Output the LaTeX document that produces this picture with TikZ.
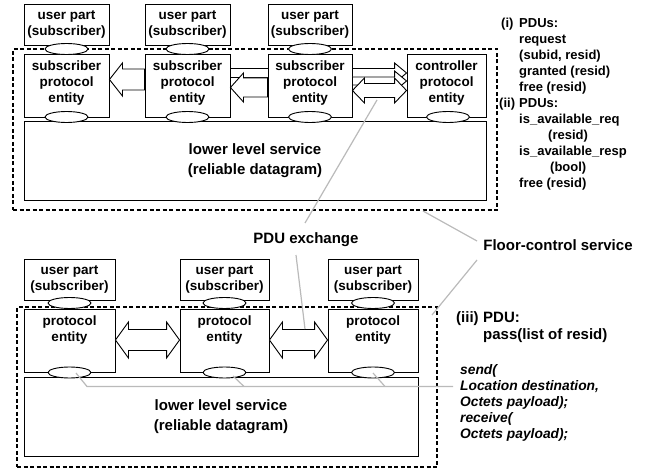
\documentclass[tikz,border=0pt]{standalone}
\usepackage{fontspec}
\setmainfont{Liberation Sans}
\usetikzlibrary{shapes.geometric,calc}
\newcommand\bxfont{\fontsize{13.5}{16}\selectfont\bfseries}
\newcommand\lowfont{\fontsize{15}{20}\selectfont\bfseries}
\newcommand\lblfont{\fontsize{15}{18}\selectfont\bfseries}
\newcommand\sidefont{\fontsize{13}{16}\selectfont\bfseries}
\newcommand\apifont{\fontsize{13.8}{16}\selectfont\bfseries\itshape}
% block arrows between named nodes: #1 left node, #2 right node, #3 centre y, #4 shaft half, #5 head half, #6 head length
\newcommand\blkL[6]{\draw[blk] let \p1=(#1.east), \p2=(#2.west) in
  (\x1,#3) -- ({\x1+#6pt},{#3-#5}) -- ({\x1+#6pt},{#3-#4}) -- (\x2,{#3-#4}) -- (\x2,{#3+#4}) -- ({\x1+#6pt},{#3+#4}) -- ({\x1+#6pt},{#3+#5}) -- cycle;}
\newcommand\blkR[6]{\draw[blk] let \p1=(#1.east), \p2=(#2.west) in
  (\x2,#3) -- ({\x2-#6pt},{#3-#5}) -- ({\x2-#6pt},{#3-#4}) -- (\x1,{#3-#4}) -- (\x1,{#3+#4}) -- ({\x2-#6pt},{#3+#4}) -- ({\x2-#6pt},{#3+#5}) -- cycle;}
\newcommand\blkD[6]{\draw[blk] let \p1=(#1.east), \p2=(#2.west) in
  (\x1,#3) -- ({\x1+#6pt},{#3-#5}) -- ({\x1+#6pt},{#3-#4}) -- ({\x2-#6pt},{#3-#4}) -- ({\x2-#6pt},{#3-#5}) -- (\x2,#3)
  -- ({\x2-#6pt},{#3+#5}) -- ({\x2-#6pt},{#3+#4}) -- ({\x1+#6pt},{#3+#4}) -- ({\x1+#6pt},{#3+#5}) -- cycle;}
\begin{document}
\begin{tikzpicture}[x=1pt,y=-1pt,
  box/.style={draw, fill=white, line width=0.9pt, inner sep=0pt, align=center, font=\bxfont},
  txt/.style={inner sep=0pt, align=center, font=\bxfont},
  lowbox/.style={draw, fill=white, line width=0.9pt, inner sep=0pt, align=center, font=\lowfont},
  ell/.style={draw, fill=white, ellipse, minimum width=43pt, minimum height=11pt, inner sep=0pt, line width=0.9pt},
  dashbox/.style={draw, dashed, line width=1.2pt, dash pattern=on 4pt off 2.5pt, inner sep=0pt},
  leader/.style={draw=black!27, line width=1.2pt},
  blk/.style={draw, fill=white, line width=0.9pt, line join=miter},
  side/.style={inner sep=0pt, anchor=base west, font=\sidefont},
  api/.style={inner sep=0pt, anchor=base west, font=\apifont},
  lbl/.style={inner sep=0pt, font=\lblfont}]
\useasboundingbox (0,0) rectangle (662,468);

% ---------- top part ----------
\node[dashbox, minimum width=484pt, minimum height=161pt] (fc1) at (255,129.5) {};
\node[lowbox, minimum width=462pt, minimum height=79pt] (low1) at (255,160.5) {lower level service\\(reliable datagram)};

\node[box, minimum width=85pt, minimum height=63pt] (e1) at (66.5,85.5) {};
\node[box, minimum width=85pt, minimum height=63pt] (e2) at (187.5,85.5) {};
\node[box, minimum width=79pt, minimum height=63pt] (ctrl) at (446.5,85.5) {};

% arrows (the long one passes behind e3)
\blkL{e1}{e2}{79.5}{10.5}{16.5}{13}
\blkR{e2}{ctrl}{73}{4.5}{10}{12}
\node[box, minimum width=84pt, minimum height=63pt] (e3) at (310,85.5) {};
\blkL{e2}{e3}{87.5}{9.5}{14.5}{13}
\blkR{e3}{ctrl}{81}{4}{10}{12}
\blkD{e3}{ctrl}{90.5}{7}{12.5}{12}

\node[txt] (e1t) at (66.5,83) {subscriber\\protocol\\entity};
\node[txt] (e2t) at (187.5,83) {subscriber\\protocol\\entity};
\node[txt] (e3t) at (310,83) {subscriber\\protocol\\entity};
\node[txt] (ctrlt) at (446.5,83) {controller\\protocol\\entity};

\node[box, minimum width=85pt, minimum height=41pt] (u1) at (66.5,24.5) {user part\\(subscriber)};
\node[box, minimum width=85pt, minimum height=41pt] (u2) at (187.5,24.5) {user part\\(subscriber)};
\node[box, minimum width=84pt, minimum height=41pt] (u3) at (310,24.5) {user part\\(subscriber)};

\node[ell] (a1) at (66.5,49) {};
\node[ell] (a2) at (187.5,49) {};
\node[ell] (a3) at (310,49) {};
\node[ell] (b1) at (66.5,117) {};
\node[ell] (b2) at (187.5,117) {};
\node[ell] (b3) at (310,117) {};
\node[ell] (b4) at (448,117) {};

% ---------- bottom part ----------
\node[dashbox, minimum width=420pt, minimum height=160pt] (fc2) at (227,387) {};
\node[lowbox, minimum width=394pt, minimum height=79pt] (low2) at (221,416.5) {lower level service\\(reliable datagram)};

\node[box, minimum width=91pt, minimum height=63pt] (f1) at (69.5,340.5) {};
\node[box, minimum width=89pt, minimum height=63pt] (f2) at (224.5,340.5) {};
\node[box, minimum width=90pt, minimum height=63pt] (f3) at (373,340.5) {};
\node[txt] (f1t) at (69.5,330) {protocol\\entity};
\node[txt] (f2t) at (224.5,330) {protocol\\entity};
\node[txt] (f3t) at (373,330) {protocol\\entity};

\blkD{f1}{f2}{340}{10.5}{18}{13}
\blkD{f2}{f3}{340}{10.5}{18}{13}

\node[box, minimum width=91pt, minimum height=41pt] (v1) at (69.5,279.5) {user part\\(subscriber)};
\node[box, minimum width=89pt, minimum height=41pt] (v2) at (224.5,279.5) {user part\\(subscriber)};
\node[box, minimum width=90pt, minimum height=41pt] (v3) at (373,279.5) {user part\\(subscriber)};

\node[ell] (c1) at (69.5,303) {};
\node[ell] (c2) at (224.5,303) {};
\node[ell] (c3) at (373,303) {};
\node[ell] (d1) at (69.5,372.5) {};
\node[ell] (d2) at (224.5,372.5) {};
\node[ell] (d3) at (373,372.5) {};

% ---------- labels and leaders ----------
\node[lbl] (pdu) at (306,240) {PDU exchange};
\node[lbl] (fcs) at (558,245) {Floor-control service};

\coordinate (pa) at (377,100);
\coordinate (pb) at (305,223);
\coordinate (pc) at (296,255);
\coordinate (pd) at (305,329);
\draw[leader] (pb) -- (pa);
\draw[leader] (pc) -- (pd);

\coordinate (fa) at (477,241);
\coordinate (fb) at (423,211);
\coordinate (fcc) at (477,260);
\coordinate (fd) at (432,315);
\draw[leader] (fa) -- (fb);
\draw[leader] (fcc) -- (fd);

\coordinate (sa) at (453,386.5);
\coordinate (sb) at (87,386.5);
\coordinate (s1) at (76,373);
\coordinate (s2) at (233,376);
\coordinate (s2e) at (244,386.5);
\coordinate (s3) at (373,373);
\coordinate (s3e) at (385,386.5);
\draw[leader] (sa) -- (sb) -- (s1);
\draw[leader] (s2) -- (s2e);
\draw[leader] (s3) -- (s3e);

% ---------- side text ----------
\node[side] (t1a) at (501,28) {(i)};
\node[side] (t1b) at (519,28) {PDUs:};
\node[side] (t2) at (519,44) {request};
\node[side] (t3) at (519,60) {(subid, resid)};
\node[side] (t4) at (519,76) {granted (resid)};
\node[side] (t5) at (519,92) {free (resid)};
\node[side] (t6a) at (499,108) {(ii)};
\node[side] (t6b) at (519,108) {PDUs:};
\node[side] (t7) at (519,124) {is\_available\_req};
\node[side] (t8) at (548,140) {(resid)};
\node[side] (t9) at (519,156) {is\_available\_resp};
\node[side] (t10) at (550,172) {(bool)};
\node[side] (t11) at (519,188) {free (resid)};

\node[lbl, anchor=base west] (p1a) at (456,322) {(iii)};
\node[lbl, anchor=base west] (p1b) at (483,322) {PDU:};
\node[lbl, anchor=base west] (p2) at (483,339) {pass(list of resid)};

\node[api] (g1) at (460,374) {send(};
\node[api] (g2) at (460,390) {Location destination,};
\node[api] (g3) at (460,406) {Octets payload);};
\node[api] (g4) at (460,422) {receive(};
\node[api] (g5) at (460,438) {Octets payload);};
\end{tikzpicture}
\end{document}
